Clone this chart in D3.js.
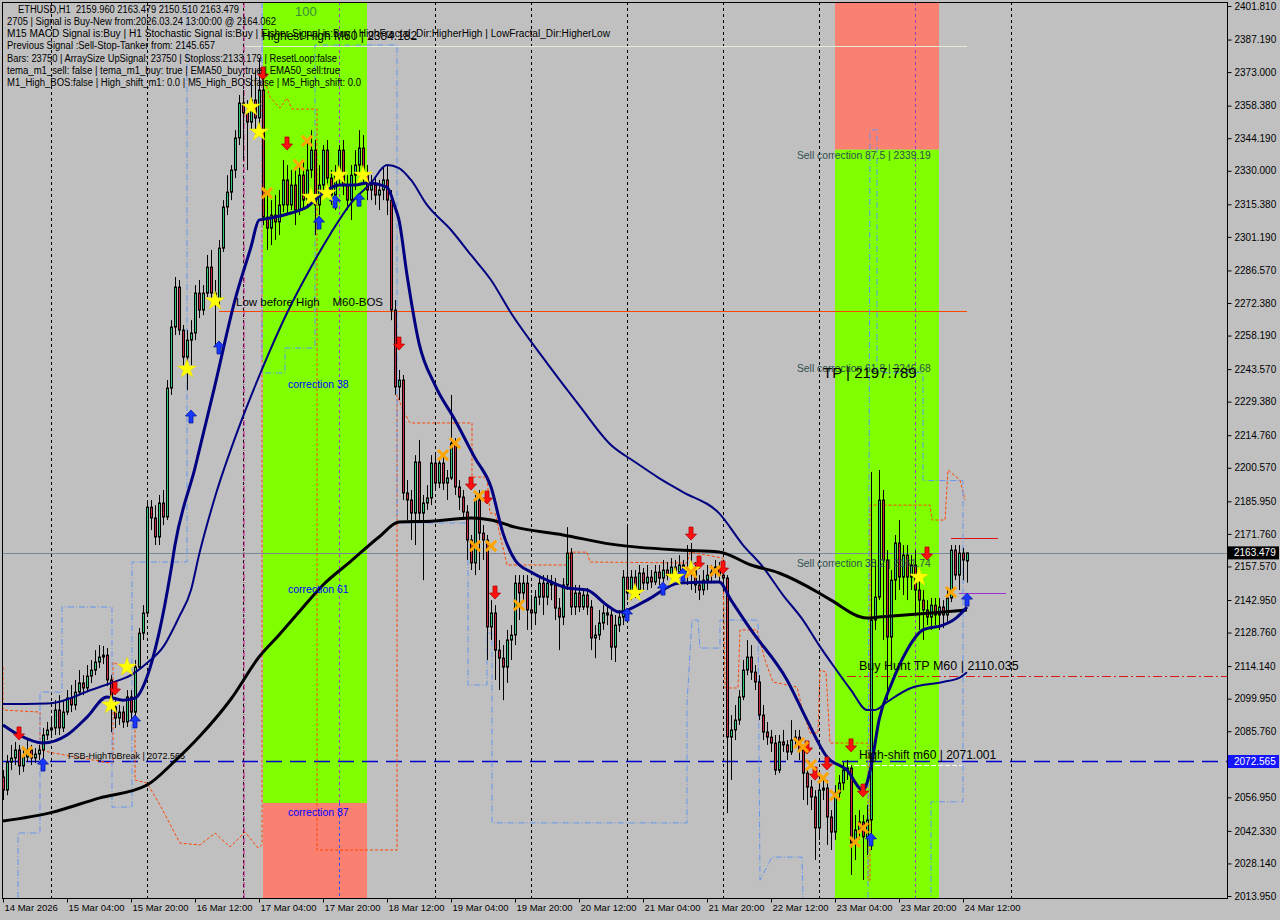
<!DOCTYPE html>
<html><head><meta charset="utf-8">
<script src="https://cdn.jsdelivr.net/npm/d3@7"></script>
<style>body{margin:0;background:#c0c0c0;overflow:hidden}svg{display:block}text{white-space:pre}</style>
</head><body><svg id="c" width="1280" height="920"></svg>
<script>
// ---------- DATA ----------
const opens = [
2065.8,2060.1,2072.3,2074.1,2077.6,2070.6,2074.5,2077.6,2074.1,2075.8,
2077.6,2084.1,2086.3,2087.2,2095.0,2087.2,2094.1,2100.2,2097.2,2102.8,
2106.8,2104.6,2109.8,2112.4,2115.9,2118.1,2118.9,2108.1,2096.3,2091.5,
2094.1,2089.8,2100.7,2094.1,2113.7,2128.5,2137.3,2183.4,2178.7,2170.4,
2185.2,2179.1,2235.3,2261.9,2279.3,2260.6,2248.8,2256.2,2259.3,2276.7,
2269.3,2276.7,2288.0,2276.7,2273.7,2296.3,2314.2,2320.7,2330.3,2344.3,
2359.5,2355.2,2351.2,2360.8,2353.0,2365.2,2309.8,2305.0,2310.7,2307.7,
2315.1,2326.0,2315.1,2323.8,2312.9,2328.1,2317.2,2330.3,2339.0,2315.1,
2323.8,2339.0,2326.8,2319.4,2328.1,2339.0,2323.8,2317.2,2328.1,2332.5,
2339.9,2328.1,2321.6,2323.8,2319.4,2321.6,2326.0,2317.2,2269.3,2235.8,
2238.8,2189.6,2186.5,2180.8,2203.1,2180.8,2185.2,2187.4,2202.6,2193.9,
2202.6,2193.9,2196.1,2211.3,2192.2,2187.8,2181.3,2169.1,2159.1,2186.5,
2172.1,2169.1,2131.2,2137.3,2121.1,2117.6,2113.7,2125.5,2127.7,2150.3,
2146.0,2150.3,2138.6,2137.3,2144.2,2150.3,2144.2,2150.3,2149.5,2139.4,
2135.5,2149.5,2163.4,2139.9,2146.0,2139.9,2145.1,2139.9,2126.4,2127.7,
2132.9,2137.3,2136.4,2122.4,2132.0,2135.5,2152.9,2146.0,2152.9,2147.3,
2154.7,2150.3,2152.9,2150.8,2155.1,2152.5,2156.0,2153.8,2157.3,2155.1,
2158.2,2153.8,2156.9,2156.0,2149.5,2147.3,2151.6,2153.8,2155.1,2157.3,
2153.8,2152.5,2083.2,2086.3,2090.6,2100.7,2112.4,2118.1,2111.5,2107.2,
2092.8,2085.4,2083.2,2080.6,2068.8,2081.1,2079.8,2076.7,2081.9,2083.2,
2077.6,2067.5,2061.4,2057.1,2043.6,2060.1,2061.0,2048.4,2041.8,2058.8,
2063.2,2068.8,2069.7,2037.0,2042.7,2046.2,2039.7,2047.1,2134.2,2144.2,
2186.5,2160.4,2126.8,2151.6,2167.8,2152.9,2162.5,2152.9,2158.2,2147.3,
2142.9,2138.6,2135.5,2140.7,2136.4,2139.9,2136.4,2143.8,2164.7,2153.8,
2163.4,2159.96];
const highs = [
2068.8,2075.4,2079.8,2081.1,2079.8,2077.6,2081.9,2079.8,2078.4,2079.8,
2087.2,2089.8,2091.5,2099.3,2101.5,2099.3,2103.7,2105.9,2108.1,2112.4,
2110.2,2114.6,2116.8,2121.1,2123.3,2122.9,2122.0,2110.2,2099.3,2097.2,
2096.7,2103.7,2103.7,2116.8,2130.7,2140.7,2186.5,2186.5,2184.3,2188.7,
2190.9,2238.8,2264.9,2283.7,2282.4,2262.8,2260.6,2264.9,2280.2,2282.4,
2280.2,2293.3,2295.5,2282.4,2299.8,2317.2,2328.1,2332.5,2347.7,2363.0,
2365.2,2360.8,2371.7,2373.9,2379.1,2369.5,2319.4,2317.2,2319.4,2321.6,
2334.7,2332.5,2330.3,2330.3,2332.5,2334.7,2343.4,2347.7,2343.4,2332.5,
2341.2,2343.4,2330.3,2332.5,2341.2,2343.4,2328.1,2332.5,2339.0,2347.7,
2345.6,2332.5,2328.1,2326.8,2326.0,2331.2,2332.5,2321.6,2273.7,2243.2,
2241.0,2195.2,2190.9,2206.1,2212.7,2188.7,2193.0,2206.1,2206.1,2204.8,
2206.1,2199.6,2232.3,2213.5,2195.2,2190.9,2184.3,2171.3,2188.7,2190.9,
2175.6,2171.3,2142.9,2140.7,2125.5,2123.3,2129.9,2132.0,2153.8,2153.8,
2153.8,2153.8,2145.1,2147.3,2152.5,2153.8,2153.8,2153.8,2152.5,2143.8,
2152.5,2174.7,2165.6,2149.5,2149.5,2148.2,2148.2,2142.9,2132.0,2138.6,
2140.7,2140.7,2139.4,2136.4,2138.6,2156.0,2175.6,2156.0,2156.0,2158.2,
2156.9,2158.2,2156.0,2158.2,2158.2,2160.4,2159.5,2161.2,2160.4,2162.5,
2160.4,2166.9,2167.8,2159.5,2153.8,2156.0,2158.2,2158.2,2160.4,2159.5,
2158.2,2153.8,2092.8,2097.2,2103.7,2116.8,2125.5,2123.3,2114.6,2110.2,
2097.2,2089.8,2086.3,2084.1,2084.1,2086.3,2081.9,2090.6,2086.3,2086.3,
2079.8,2069.7,2064.5,2060.1,2062.3,2064.5,2064.5,2051.4,2062.3,2066.7,
2072.3,2073.2,2071.0,2049.3,2051.4,2049.3,2053.6,2198.7,2160.4,2199.6,
2190.9,2164.7,2156.0,2171.3,2177.8,2166.9,2166.9,2162.5,2164.7,2151.6,
2147.3,2142.9,2143.8,2143.8,2143.8,2142.9,2147.3,2166.9,2166.9,2166.9,
2165.6,2163.479];
const lows = [
2055.8,2057.9,2068.8,2071.0,2066.7,2068.0,2072.3,2071.0,2071.9,2073.2,
2071.0,2081.9,2082.8,2084.1,2084.1,2085.4,2092.8,2094.1,2095.0,2101.5,
2101.5,2102.8,2106.8,2110.2,2113.3,2115.0,2105.4,2085.4,2087.2,2088.5,
2087.2,2087.6,2090.6,2092.4,2112.4,2125.5,2136.0,2173.4,2166.9,2166.9,
2175.6,2177.8,2232.3,2258.4,2258.4,2245.3,2234.4,2245.3,2256.2,2265.8,
2267.1,2275.0,2273.7,2254.0,2271.5,2294.6,2310.7,2317.2,2326.8,2341.2,
2334.7,2330.3,2347.7,2345.6,2349.9,2306.3,2295.5,2297.6,2299.8,2302.0,
2312.0,2310.7,2312.9,2306.3,2310.7,2312.9,2315.1,2326.8,2302.0,2310.7,
2319.4,2321.6,2315.1,2312.9,2323.8,2319.4,2312.9,2308.5,2321.6,2326.8,
2323.8,2317.2,2317.2,2315.1,2312.9,2317.2,2310.7,2264.9,2232.3,2230.1,
2186.5,2177.8,2169.1,2166.9,2177.8,2151.6,2182.2,2184.3,2190.9,2191.7,
2190.9,2186.5,2195.2,2188.7,2182.2,2177.8,2160.4,2156.0,2153.8,2156.0,
2160.4,2116.8,2125.5,2108.1,2103.7,2099.3,2106.8,2116.8,2123.3,2134.2,
2142.9,2129.9,2129.9,2132.0,2140.7,2136.4,2140.7,2142.9,2134.2,2121.1,
2132.0,2147.3,2136.4,2136.4,2137.7,2138.6,2136.4,2121.1,2117.6,2125.5,
2129.9,2132.0,2116.8,2115.9,2129.0,2132.0,2142.9,2142.9,2143.8,2145.1,
2147.3,2147.3,2148.2,2149.5,2149.5,2150.8,2151.6,2151.6,2152.5,2152.5,
2150.8,2149.5,2147.3,2146.0,2142.9,2145.1,2147.3,2150.8,2152.5,2150.3,
2147.3,2050.1,2064.5,2081.9,2088.5,2099.3,2110.2,2108.1,2103.7,2090.6,
2081.9,2079.8,2076.7,2066.7,2067.5,2076.7,2073.2,2075.4,2079.8,2073.2,
2055.8,2053.6,2051.4,2029.6,2038.4,2055.8,2036.2,2034.0,2038.4,2055.8,
2060.1,2064.5,2023.1,2029.6,2038.4,2020.9,2031.8,2034.0,2129.9,2142.9,
2125.5,2099.3,2112.4,2142.9,2147.3,2145.1,2142.9,2147.3,2136.4,2129.9,
2125.5,2132.0,2129.9,2132.0,2129.9,2130.7,2133.4,2142.0,2151.6,2147.3,
2151.6,2150.51];
const closes = [
2060.1,2072.3,2074.1,2077.6,2070.6,2074.5,2077.6,2074.1,2075.8,2077.6,
2084.1,2086.3,2087.2,2095.0,2087.2,2094.1,2100.2,2097.2,2102.8,2106.8,
2104.6,2109.8,2112.4,2115.9,2118.1,2118.9,2108.1,2096.3,2091.5,2094.1,
2089.8,2100.7,2094.1,2113.7,2128.5,2137.3,2183.4,2178.7,2170.4,2185.2,
2179.1,2235.3,2261.9,2279.3,2260.6,2248.8,2256.2,2259.3,2276.7,2269.3,
2276.7,2288.0,2276.7,2273.7,2296.3,2314.2,2320.7,2330.3,2344.3,2359.5,
2355.2,2351.2,2360.8,2353.0,2365.2,2309.8,2305.0,2310.7,2307.7,2315.1,
2326.0,2315.1,2323.8,2312.9,2328.1,2317.2,2330.3,2339.0,2315.1,2323.8,
2339.0,2326.8,2319.4,2328.1,2339.0,2323.8,2317.2,2328.1,2332.5,2339.9,
2328.1,2321.6,2323.8,2319.4,2321.6,2326.0,2317.2,2269.3,2235.8,2238.8,
2189.6,2186.5,2180.8,2203.1,2180.8,2185.2,2187.4,2202.6,2193.9,2202.6,
2193.9,2196.1,2211.3,2192.2,2187.8,2181.3,2169.1,2159.1,2186.5,2172.1,
2169.1,2131.2,2137.3,2121.1,2117.6,2113.7,2125.5,2127.7,2150.3,2146.0,
2150.3,2138.6,2137.3,2144.2,2150.3,2144.2,2150.3,2149.5,2139.4,2135.5,
2149.5,2163.4,2139.9,2146.0,2139.9,2145.1,2139.9,2126.4,2127.7,2132.9,
2137.3,2136.4,2122.4,2132.0,2135.5,2152.9,2146.0,2152.9,2147.3,2154.7,
2150.3,2152.9,2150.8,2155.1,2152.5,2156.0,2153.8,2157.3,2155.1,2158.2,
2153.8,2156.9,2156.0,2149.5,2147.3,2151.6,2153.8,2155.1,2157.3,2153.8,
2152.5,2083.2,2086.3,2090.6,2100.7,2112.4,2118.1,2111.5,2107.2,2092.8,
2085.4,2083.2,2080.6,2068.8,2081.1,2079.8,2076.7,2081.9,2083.2,2077.6,
2067.5,2061.4,2057.1,2043.6,2060.1,2061.0,2048.4,2041.8,2058.8,2063.2,
2068.8,2069.7,2037.0,2042.7,2046.2,2039.7,2047.1,2134.2,2144.2,2186.5,
2160.4,2126.8,2151.6,2167.8,2152.9,2162.5,2152.9,2158.2,2147.3,2142.9,
2138.6,2135.5,2140.7,2136.4,2139.9,2136.4,2143.8,2164.7,2153.8,2163.4,
2160.4,2163.479];

// moving averages: [bar index, price]
const maSlowBlack = [[0,2046.6],[12,2050.3],[24,2056.6],[36,2062.3],[43,2072.8],[49,2083.2],[57,2099.8],[64,2118.1],[69,2127.7],[74,2137.7],[80,2149.5],[87,2159.9],[94,2170.4],[99,2176.9],[107,2177.3],[117,2178.7],[122,2177.8],[128,2174.7],[140,2171.3],[152,2167.3],[169,2164.7],[179,2163.9],[187,2158.2],[194,2154.7],[204,2146.0],[207,2142.9],[216,2135.1],[219,2135.5],[232,2137.3],[241,2138.6]];
const emaFastNavy = [[0,2088.5],[4,2084.1],[10,2080.6],[16,2084.1],[21,2091.9],[26,2100.7],[30,2099.3],[33,2100.2],[36,2109.4],[39,2128.5],[42,2156.0],[43,2166.9],[48,2200.5],[53,2236.6],[58,2273.7],[62,2296.8],[64,2308.5],[67,2309.4],[72,2311.6],[76,2314.2],[80,2320.3],[84,2323.8],[88,2323.8],[91,2324.7],[96,2322.9],[98,2314.2],[99,2308.5],[101,2284.6],[104,2254.9],[108,2236.6],[113,2221.4],[118,2204.8],[122,2192.2],[125,2172.1],[128,2160.4],[132,2155.1],[137,2150.8],[141,2148.2],[146,2147.3],[151,2140.7],[154,2137.7],[161,2142.9],[169,2150.3],[179,2150.8],[182,2142.9],[187,2129.9],[196,2108.1],[201,2090.6],[206,2074.5],[211,2068.8],[215,2060.1],[217,2070.2],[219,2090.6],[222,2105.9],[226,2121.1],[230,2129.9],[235,2132.0],[238,2134.7],[241,2139.9]];
const emaMidNavy = [[0,2097.6],[12,2098.0],[22,2103.7],[27,2106.8],[32,2110.2],[36,2115.5],[40,2122.4],[44,2135.5],[47,2147.3],[49,2162.5],[53,2187.8],[59,2218.3],[65,2244.5],[71,2268.0],[77,2288.0],[82,2302.9],[87,2315.9],[92,2324.7],[96,2332.5],[99,2331.2],[102,2326.0],[106,2315.1],[112,2304.2],[117,2293.3],[122,2282.4],[127,2268.0],[136,2246.2],[144,2227.9],[152,2210.5],[158,2203.1],[164,2196.1],[170,2190.0],[179,2180.8],[185,2166.9],[190,2157.3],[195,2145.1],[200,2134.2],[204,2123.3],[208,2113.3],[212,2103.7],[216,2095.0],[218,2095.0],[221,2098.5],[227,2104.6],[235,2107.2],[239,2109.0],[241,2111.5]];

// step lines [bar index, price]
const stopLineOrange = [[0,2113.7],[0,2095.0],[9.25,2094.1],[9.25,2077.6],[12.5,2076.3],[26.75,2071.9],[27.5,2071.9],[27.5,2115.9],[32.5,2111.5],[33,2111.5],[33,2064.5],[36,2063.2],[39.25,2053.6],[44.25,2037.0],[49.25,2036.2],[53,2041.4],[56.75,2035.3],[60.5,2041.8],[63.75,2034.9],[64.75,2036.2],[64.75,2373.0],[66.75,2362.1],[69.25,2357.3],[71,2361.7],[72.25,2356.9],[78.5,2356.9],[78.5,2034.0],[98.5,2034.0],[98.5,2232.3],[100,2225.7],[101.75,2220.1],[117.25,2220.1],[117.25,2196.5],[121,2196.5],[121.75,2180.8],[123,2180.8],[126,2158.2],[141.25,2158.2],[141.75,2163.8],[146,2163.8],[146.75,2159.5],[171,2159.1],[171.75,2163.8],[180,2161.2],[180.5,2104.6],[183.75,2104.6],[184.25,2129.9],[188.5,2129.9],[190.5,2116.8],[192.5,2107.2],[198.5,2105.0],[200,2094.1],[201.75,2085.0],[203.75,2085.0],[204.25,2112.4],[205.75,2111.5],[206.75,2080.6],[216.25,2080.6],[216.25,2020.9],[216.75,2020.9],[216.75,2184.3],[231.75,2184.3],[232.25,2177.8],[235.5,2177.8],[236.25,2199.6],[239.25,2195.2],[240.5,2186.5]];
const channelBlueA = [[3.75,2013.1],[3.75,2041.4],[9.25,2041.4],[9.25,2102.8],[14.75,2102.8],[14.75,2139.9],[27.25,2139.9],[27.25,2052.7],[32.25,2052.7],[32.25,2159.5],[46,2159.5],[46,2403.5]];
const channelBlueB = [[64.75,2403.5],[64.75,2241.9],[70.5,2241.9],[70.5,2252.8],[78,2252.8],[78,2384.8],[98.5,2384.8],[98.5,2176.5],[116.25,2176.5],[116.25,2105.9],[121,2105.9],[121,2128.5],[122.25,2128.5],[122.25,2045.8],[171,2045.8],[171,2098.0],[172.25,2134.2],[173.75,2134.2],[174.25,2122.0],[179.25,2122.0],[179.25,2134.2],[188.75,2134.2],[189.25,2020.9],[192.25,2030.9],[199.75,2030.9],[200,2013.1]];
const channelBlueC = [[216.25,2013.1],[216.75,2347.8],[218.5,2347.8],[218.5,2242.0],[230,2242.0],[230,2195.0],[240,2195.0],[240,2055.0],[232,2055.0],[232,2013.1]];

// signals [bar index, price]
const upArrows = [[10,2071.0],[33,2089.8],[47,2222.7],[54,2252.8],[79,2307.2],[83,2316.4],[89,2317.2],[156,2136.4],[165,2147.7],[170,2153.8],[217,2038.4],[241,2142.9]];
const downArrows = [[4,2085.0],[28,2104.6],[65,2372.6],[71,2342.1],[99,2254.9],[117,2193.9],[121,2187.8],[123,2146.4],[172,2172.1],[174,2159.5],[180,2157.3],[201,2078.9],[203,2067.5],[206,2071.9],[212,2079.8],[215,2060.1],[231,2163.4]];
const stars = [[27,2097.2],[31,2113.7],[46,2243.6],[53,2273.3],[62,2357.8],[64,2346.9],[77,2318.5],[81,2320.3],[84,2328.1],[90,2328.1],[158,2146.0],[168,2152.9],[172,2156.0],[229,2152.9]];
const crosses = [[6,2076.7],[66,2320.3],[74,2332.5],[76,2343.0],[110,2206.1],[113,2211.3],[119,2188.3],[118,2166.5],[122,2166.5],[129,2140.7],[172,2155.1],[178,2155.6],[199,2080.6],[200,2078.9],[202,2071.0],[205,2065.4],[208,2057.9],[213,2037.5],[215,2043.6],[237,2146.4]];

// zones: [startBar, endBar, splitPrice]
const zoneBuy = [65, 91, 2054.5];
const zoneSell = [208, 234, 2339.19];

const priceTicks = [2401.81,2387.19,2373.00,2358.38,2344.19,2330.00,2315.38,2301.19,2286.57,2272.38,2258.19,2243.57,2229.38,2214.76,2200.57,2185.95,2171.76,2157.57,2142.95,2128.76,2114.14,2099.95,2085.76,2071.14,2056.95,2042.33,2028.14,2013.95];
const timeTicks = [0,16,32,48,64,80,96,112,128,144,160,176,192,208,224,240];
const timeLabels = ["14 Mar 2026","15 Mar 04:00","15 Mar 20:00","16 Mar 12:00","17 Mar 04:00","17 Mar 20:00","18 Mar 12:00","19 Mar 04:00","19 Mar 20:00","20 Mar 12:00","21 Mar 04:00","21 Mar 20:00","22 Mar 12:00","23 Mar 04:00","23 Mar 20:00","24 Mar 12:00"];
const gridBars = [12,36,60,84,108,132,156,180,204,228,252];

const infoLines = [
 ["ETHUSD,H1  2159.960 2163.479 2150.510 2163.479", 18, 221],
 ["2705 | Signal is Buy-New from:2026.03.24 13:00:00 @ 2164.062", 7, 269],
 ["M15 MACD Signal is:Buy | H1 Stochastic Signal is:Buy | Fisher Signal is:Buy | HighFractal_Dir:HigherHigh | LowFractal_Dir:HigherLow", 7, 603],
 ["Previous Signal :Sell-Stop-Tanker from: 2145.657", 7, 208],
 ["Bars: 23750 | ArraySize UpSignal: 23750 | Stoploss:2133.179 | ResetLoop:false", 7, 330],
 ["tema_m1_sell: false | tema_m1_buy: true | EMA50_buy:true | EMA50_sell:true", 7, 333],
 ["M1_High_BOS:false | High_shift_m1: 0.0 | M5_High_BOS:false | M5_High_shift: 0.0", 7, 354]
];

const lastPrice = 2163.479;
const fsbLevel = 2072.565;
const highestHigh = 2384.182;
const lowBeforeHigh = 2268.9;
const buyHuntTP = 2110.035;
const highShift = 2071.001;
const redMark = 2170.0;
const purpleMark = 2146.0;

// ---------- CHART ----------
const FONT = "'Liberation Sans', Arial, sans-serif";
const L = 2, R = 1227, T = 2, B = 898;
const svg = d3.select('#c');
const x = d3.scaleLinear().domain([0, 241]).range([3, 967]);
const y = d3.scaleLinear().domain([2013.95, 2401.81]).range([896, 6]);

svg.append('rect').attr('width', 1280).attr('height', 920).attr('fill', '#c0c0c0');
svg.append('defs').append('clipPath').attr('id', 'clip')
  .append('rect').attr('x', L).attr('y', T).attr('width', R - L).attr('height', B - T);
const g = svg.append('g').attr('clip-path', 'url(#clip)');

// zones
function zone(z, topColor, botColor) {
  const x0 = x(z[0]), x1 = x(z[1]), ys = y(z[2]);
  g.append('rect').attr('x', x0).attr('y', T).attr('width', x1 - x0).attr('height', ys - T).attr('fill', topColor);
  g.append('rect').attr('x', x0).attr('y', ys).attr('width', x1 - x0).attr('height', B - ys).attr('fill', botColor);
}
zone(zoneBuy, '#7fff00', '#fa8072');
zone(zoneSell, '#fa8072', '#7fff00');

// grid
gridBars.forEach(b => {
  const gx = Math.round(x(b)) + 0.5;
  let col = '#000';
  if (b >= zoneBuy[0] && b <= zoneBuy[1]) {
    g.append('line').attr('x1', gx).attr('x2', gx).attr('y1', T).attr('y2', y(zoneBuy[2]))
      .attr('stroke', '#a040c0').attr('stroke-dasharray', '3,3');
    g.append('line').attr('x1', gx).attr('x2', gx).attr('y1', y(zoneBuy[2])).attr('y2', B)
      .attr('stroke', '#3050ff').attr('stroke-dasharray', '3,3');
    return;
  }
  if (b >= zoneSell[0] && b <= zoneSell[1]) col = '#9040c0';
  g.append('line').attr('x1', gx).attr('x2', gx).attr('y1', T).attr('y2', B)
    .attr('stroke', col).attr('stroke-dasharray', '3,3');
});
// magenta separator
g.append('line').attr('x1', x(60.25)).attr('x2', x(60.25)).attr('y1', T).attr('y2', B)
  .attr('stroke', '#c71585').attr('stroke-dasharray', '6,2,1,2');

// horizontal object lines
function hline(p, b0, xEnd, color, dash, w) {
  g.append('line').attr('x1', b0 === null ? L : x(b0)).attr('x2', xEnd === null ? R : x(xEnd))
    .attr('y1', Math.round(y(p)) + 0.5).attr('y2', Math.round(y(p)) + 0.5)
    .attr('stroke', color).attr('stroke-width', w || 1).attr('stroke-dasharray', dash || null);
}
hline(highestHigh, 60.5, 241, '#e4ecd8');
hline(lastPrice, null, null, '#778899');
hline(lowBeforeHigh, 54, 241, '#ff4500');
hline(buyHuntTP, 211, null, '#d81818', '9,3,2,3');
hline(fsbLevel, null, null, '#0000d0', '16,8', 1.5);
hline(highShift, 211, 240, '#ffffff', '5,2');
hline(redMark, 237, 248.75, '#e01010');
hline(purpleMark, 239, 250.75, '#9b30d0');

// step lines
const lineGen = d3.line().x(d => x(d[0])).y(d => y(d[1]));
g.append('path').attr('d', lineGen(stopLineOrange)).attr('fill', 'none')
  .attr('stroke', '#ff4500').attr('stroke-dasharray', '3,2');
[channelBlueA, channelBlueB, channelBlueC].forEach(c =>
  g.append('path').attr('d', lineGen(c)).attr('fill', 'none')
    .attr('stroke', '#6495ed').attr('stroke-dasharray', '6,2,1,2'));

// candles
const bars = d3.range(opens.length).map(i => ({i, o: opens[i], h: highs[i], l: lows[i], c: closes[i]}));
const cg = g.append('g');
cg.selectAll('line.w').data(bars).join('line').attr('class', 'w')
  .attr('x1', d => Math.round(x(d.i)) + 0.5).attr('x2', d => Math.round(x(d.i)) + 0.5)
  .attr('y1', d => y(d.h)).attr('y2', d => y(d.l)).attr('stroke', '#000');
cg.selectAll('rect.b').data(bars).join('rect').attr('class', 'b')
  .attr('x', d => Math.round(x(d.i)) - 0.5).attr('width', 2)
  .attr('y', d => y(Math.max(d.o, d.c))).attr('height', d => Math.max(1, Math.abs(y(d.o) - y(d.c))))
  .attr('fill', d => d.c >= d.o ? '#30c878' : '#c8283c').attr('stroke', '#000').attr('stroke-width', 1);

// moving averages
const curve = d3.line().x(d => x(d[0])).y(d => y(d[1])).curve(d3.curveMonotoneX);
g.append('path').attr('d', curve(emaMidNavy)).attr('fill', 'none').attr('stroke', '#000080').attr('stroke-width', 2);
g.append('path').attr('d', curve(maSlowBlack)).attr('fill', 'none').attr('stroke', '#000').attr('stroke-width', 3);
g.append('path').attr('d', curve(emaFastNavy)).attr('fill', 'none').attr('stroke', '#000080').attr('stroke-width', 3);

// markers
const upPath = 'M0,-7 L5.5,-1 L2,-1 L2,6 L-2,6 L-2,-1 L-5.5,-1 Z';
const downPath = 'M0,7 L5.5,1 L2,1 L2,-6 L-2,-6 L-2,1 L-5.5,1 Z';
g.selectAll('path.up').data(upArrows).join('path').attr('class', 'up').attr('d', upPath)
  .attr('transform', d => `translate(${x(d[0])},${y(d[1])})`).attr('fill', '#1838ff').attr('stroke', '#0818a0').attr('stroke-width', 0.8);
g.selectAll('path.dn').data(downArrows).join('path').attr('class', 'dn').attr('d', downPath)
  .attr('transform', d => `translate(${x(d[0])},${y(d[1])})`).attr('fill', '#ff1010').attr('stroke', '#b00000').attr('stroke-width', 0.8);
g.selectAll('path.st').data(stars).join('path').attr('class', 'st').attr('d', d3.symbol(d3.symbolStar).size(110))
  .attr('transform', d => `translate(${x(d[0])},${y(d[1])})`).attr('fill', '#ffff00').attr('stroke', '#e8e000').attr('stroke-width', 0.5);
g.selectAll('path.cx').data(crosses).join('path').attr('class', 'cx').attr('d', d3.symbol(d3.symbolTimes).size(70))
  .attr('transform', d => `translate(${x(d[0])},${y(d[1])})`).attr('fill', 'none').attr('stroke', '#ffa500').attr('stroke-width', 3);

// texts
function txt(s, tx, ty, size, color, extra) {
  const t = svg.append('text').attr('x', tx).attr('y', ty).attr('font-family', FONT)
    .attr('font-size', size).attr('fill', color || '#000').attr('xml:space', 'preserve').text(s);
  if (extra) extra(t);
  return t;
}
txt('100', 295, 16, 13, '#3c8c3c');
txt('correction 38', 288, y(2237.2) + 4, 10.5, '#0000ff');
txt('correction 61', 288, y(2147.7) + 4, 10.5, '#0000ff');
txt('correction 87', 288, y(2050.5) + 4, 10.5, '#0000ff');
txt('Sell correction 87.5 | 2339.19', 797, 159, 10.3, '#2f4f4f');
txt('Sell correction 61.8 | 2246.68', 797, 372, 10.3, '#2f4f4f');
txt('Sell correction 38.2 | 2161.74', 797, 567, 10.3, '#2f4f4f');
txt('TP | 2197.789', 823, 378, 15, '#000');
txt('Low before High    M60-BOS', 236, 306, 11.5, '#000');
txt('Buy Hunt TP M60 | 2110.035', 859, 670, 12.5, '#000');
txt('High-shift m60 | 2071.001', 859, 759, 12, '#000');
txt('FSB-HighToBreak | 2072.565', 68, 759, 9, '#000');

infoLines.forEach((l, k) => {
  txt(l[0], l[1], 12.5 + k * 12.3, 10, '#000', t => t.attr('textLength', l[2]).attr('lengthAdjust', 'spacingAndGlyphs'));
});
txt('Highest High M60 | 2384.182', 262, 40, 12, '#000');

// frame
svg.append('rect').attr('x', L + 0.5).attr('y', T + 0.5).attr('width', R - L).attr('height', B - T)
  .attr('fill', 'none').attr('stroke', '#000');

// axes
const ya = svg.append('g').attr('transform', `translate(${R + 0.5},0)`)
  .call(d3.axisRight(y).tickValues(priceTicks).tickFormat(d3.format('.3f')).tickSize(4).tickPadding(3));
ya.select('.domain').remove();
ya.selectAll('text').attr('font-family', FONT).attr('font-size', 10).attr('fill', '#000');
ya.selectAll('line').attr('stroke', '#000');

const xa = svg.append('g').attr('transform', `translate(0,${B + 0.5})`)
  .call(d3.axisBottom(x).tickValues(timeTicks).tickFormat((d, i) => timeLabels[i]).tickSize(4).tickPadding(2));
xa.select('.domain').remove();
xa.selectAll('text').attr('font-family', FONT).attr('font-size', 9.5).attr('fill', '#000').attr('text-anchor', 'start').attr('dx', 1);
xa.selectAll('line').attr('stroke', '#000');

// price labels
function priceBox(p, bg) {
  const py = y(p);
  svg.append('rect').attr('x', R + 1).attr('y', py - 6.5).attr('width', 51).attr('height', 13).attr('fill', bg);
  txt(p.toFixed(3), R + 7, py + 3.5, 10, '#fff');
}
priceBox(lastPrice, '#000');
priceBox(fsbLevel, '#1414ff');
</script></body></html>
